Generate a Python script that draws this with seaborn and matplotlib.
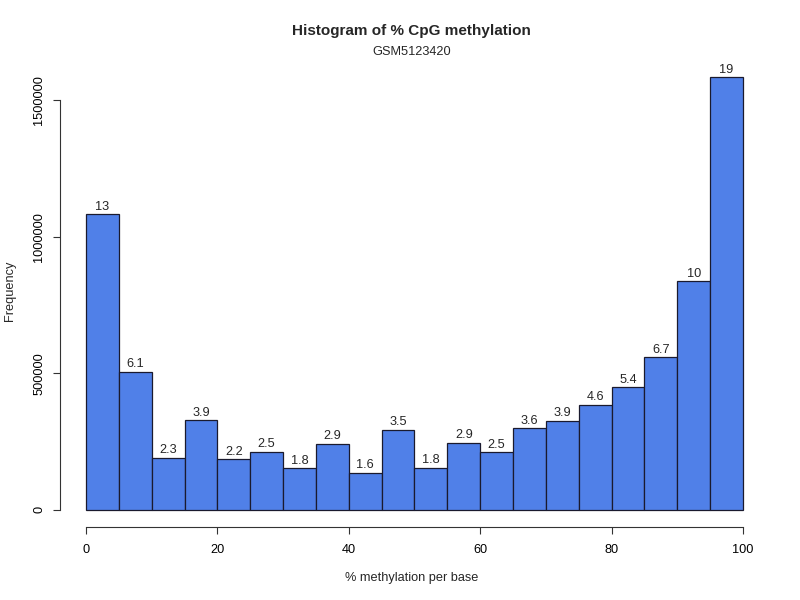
#!/usr/bin/env python3
# methylation_hist.py

import numpy as np
import matplotlib
matplotlib.use('Agg')
import matplotlib.pyplot as plt
import seaborn as sns

# Data =========================================================================

bin_edges = [0, 5, 10, 15, 20, 25, 30, 35, 40, 45, 50,
             55, 60, 65, 70, 75, 80, 85, 90, 95, 100]
counts = [1083000, 506000, 191000, 327000, 184000, 213000, 152000, 242000,
          135000, 293000, 154000, 246000, 211000, 299000, 326000, 385000,
          448000, 560000, 837000, 1585000]
pct_labels = ['13', '6.1', '2.3', '3.9', '2.2', '2.5', '1.8', '2.9', '1.6',
              '3.5', '1.8', '2.9', '2.5', '3.6', '3.9', '4.6', '5.4', '6.7',
              '10', '19']
x_ticks = [0, 20, 40, 60, 80, 100]
y_ticks = [0, 500000, 1000000, 1500000]


def main():
    sns.set_style('ticks')
    plt.rcParams['font.family'] = ['Liberation Sans', 'DejaVu Sans']

    fig = plt.figure(figsize=(8, 6), dpi=100)
    ax = fig.add_axes([0.0746, 0.1217, 0.887, 0.7783])

    mids = [(a + b) / 2 for a, b in zip(bin_edges[:-1], bin_edges[1:])]
    sns.histplot(x=mids, weights=counts, bins=bin_edges, ax=ax,
                 color='#5080e8', alpha=1, edgecolor='#1a1a2e', linewidth=0.9)

    for p, lab in zip(ax.patches, pct_labels):
        ax.annotate(lab, (p.get_x() + p.get_width() / 2, p.get_height()),
                    xytext=(0, 1), textcoords='offset points',
                    ha='center', va='bottom', fontsize=9.2)

    ymax = max(counts)
    ax.set_xlim(-4, 104)
    ax.set_ylim(-0.04 * ymax, 1.04 * ymax)
    ax.set_xticks(x_ticks)
    ax.set_xticklabels([str(v) for v in x_ticks])
    ax.set_yticks(y_ticks)
    ax.set_yticklabels([str(v) for v in y_ticks])
    ax.tick_params(labelsize=9.2, length=5, width=0.8, colors='#333333',
                   labelcolor='black', pad=7)
    ax.tick_params(axis='y', labelrotation=90, pad=5.5)
    for t in ax.get_yticklabels():
        t.set_va('center')
    ax.spines['top'].set_visible(False)
    ax.spines['right'].set_visible(False)
    ax.spines['bottom'].set_bounds(0, 100)
    ax.spines['left'].set_bounds(0, 1500000)
    for s in ('bottom', 'left'):
        ax.spines[s].set_color('#333333')
        ax.spines[s].set_linewidth(0.8)
    ax.set_xlabel('')
    ax.set_ylabel('')

    fig.text(0.514, 0.949, 'Histogram of % CpG methylation', ha='center',
             va='center', fontsize=11, fontweight='bold')
    fig.text(0.514, 0.913, 'GSM5123420', ha='center', va='center', fontsize=9.2)
    fig.text(0.514, 0.037, '% methylation per base', ha='center', va='center',
             fontsize=9.2)
    fig.text(0.013, 0.515, 'Frequency', ha='center', va='center',
             rotation=90, fontsize=9.2)

    fig.savefig('out.png', dpi=100)


if __name__ == '__main__':
    main()
